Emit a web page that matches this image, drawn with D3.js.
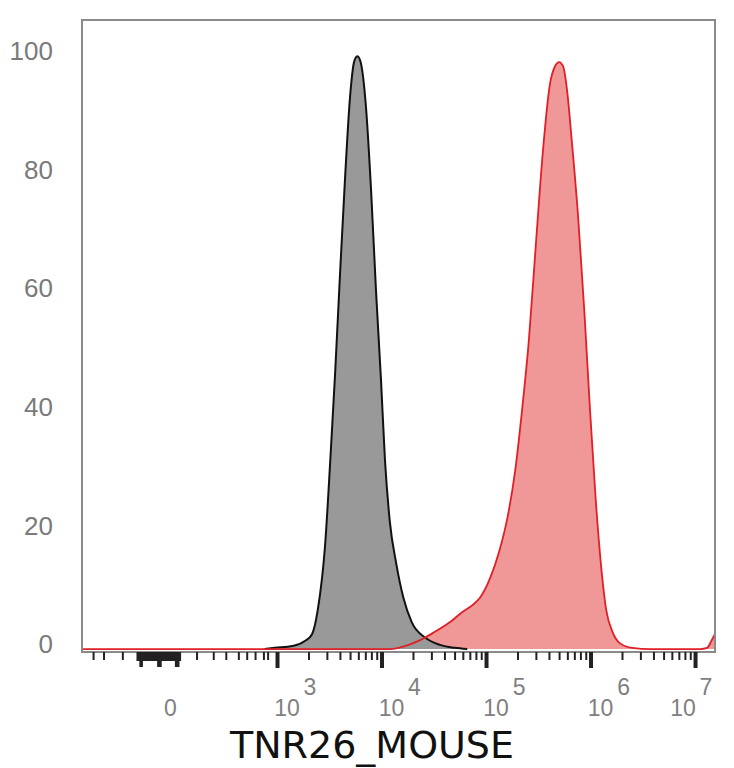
<!DOCTYPE html>
<html>
<head>
<meta charset="utf-8">
<script src="https://cdn.jsdelivr.net/npm/d3@7"></script>
<style>
  body { margin: 0; background: #fff; }
</style>
</head>
<body>
<div id="histogram"></div>
<script>
// positions are in display decades (logicle-like axis: 2 = "0", 3 = 10^3, ...)
// heights are % of mode
var grayX = [2.88, 2.98, 3.15, 3.27, 3.335, 3.39, 3.46, 3.51, 3.555, 3.60, 3.65, 3.70, 3.74, 3.77, 3.80,
             3.85, 3.90, 3.947, 3.995, 4.033, 4.08, 4.14, 4.21, 4.29, 4.42, 4.56, 4.70, 4.82];
var grayY = [0, 0.2, 0.5, 1.4, 2.5, 6.6, 17.5, 31.9, 46.2, 62.2, 79.1, 93.4, 99.2, 100, 99.0,
             91.7, 77.4, 60.5, 45.4, 31.9, 21.4, 14.5, 8.6, 4.5, 1.9, 0.7, 0.2, 0];

var redX = [1.134, 4.08, 4.225, 4.37, 4.51, 4.66, 4.77, 4.87, 4.94, 5.04, 5.13, 5.21, 5.28, 5.34, 5.41,
            5.48, 5.545, 5.61, 5.66, 5.70, 5.737, 5.775, 5.82, 5.88, 5.94, 5.995, 6.05, 6.10, 6.15,
            6.21, 6.28, 6.40, 6.57, 7.05, 7.115, 7.16, 7.20];
var redY = [0, 0, 0.5, 1.5, 2.9, 4.6, 6.2, 7.4, 8.6, 12.0, 16.7, 22.6, 30.2, 39.5, 52.1,
            69.0, 84.1, 95.1, 98.3, 99, 98.3, 94.3, 85.8, 73.2, 57.2, 40.3, 25.1, 14.2, 6.6,
            2.9, 1.0, 0.2, 0, 0, 0.2, 1.5, 2.9];

var yTicks = [0, 20, 40, 60, 80, 100];
var xMajor = [3, 4, 5, 6, 7];
var xLabelBase = ["0", "10", "10", "10", "10", "10"];
var xLabelExp = ["", "3", "4", "5", "6", "7"];
var xLabelAt = [2, 3, 4, 5, 6, 7];
var xLowMinor = [1.24, 1.34, 1.52, 2.23, 2.39, 2.51, 2.63, 2.71, 2.79, 2.87, 2.91];
var xLongNearZero = [1.69, 1.70, 1.86, 1.87, 1.88, 2.03, 2.04, 2.05];
var axisTitle = "TNR26_MOUSE";

// set the dimensions and margins of the graph
var margin = {top: 20, right: 19, bottom: 116, left: 82},
    width = 734 - margin.left - margin.right,
    height = 768 - margin.top - margin.bottom;

var x = d3.scaleLinear()
    .domain([1.134, 7.191])
    .range([0, width]);
var y = d3.scaleLinear()
    .domain([-0.5, 106.1])
    .range([height, 0]);

var svg = d3.select("#histogram").append("svg")
    .attr("width", width + margin.left + margin.right)
    .attr("height", height + margin.top + margin.bottom)
    .append("g")
    .attr("transform", "translate(" + margin.left + "," + margin.top + ")");

svg.append("clipPath").attr("id", "clip")
    .append("rect").attr("width", width).attr("height", height);

var red = redX.map(function(d, i) { return {x: d, y: redY[i]}; });
var gray = grayX.map(function(d, i) { return {x: d, y: grayY[i]}; });

var area = d3.area()
    .curve(d3.curveMonotoneX)
    .x(function(d) { return x(d.x); })
    .y0(y(0))
    .y1(function(d) { return y(d.y); });
var line = d3.line()
    .curve(d3.curveMonotoneX)
    .x(function(d) { return x(d.x); })
    .y(function(d) { return y(d.y); });

var plot = svg.append("g").attr("clip-path", "url(#clip)");

// fills first, outlines on top
plot.append("path").datum(red).attr("d", area).attr("fill", "#f09797");
plot.append("path").datum(gray).attr("d", area).attr("fill", "#999999");
plot.append("path").datum(gray).attr("d", line)
    .attr("fill", "none").attr("stroke", "#111").attr("stroke-width", 2);
plot.append("path").datum(red).attr("d", line)
    .attr("fill", "none").attr("stroke", "#e01f26").attr("stroke-width", 1.8);

// frame
svg.append("rect")
    .attr("width", width).attr("height", height)
    .attr("fill", "none").attr("stroke", "#8a8a8a").attr("stroke-width", 2);

// x ticks: minor, dense cluster near zero, major
var minor = xLowMinor.slice();
[3, 4, 5, 6].forEach(function(n) {
  for (var k = 2; k <= 9; k++) minor.push(n + Math.log10(k));
});
var dense = d3.range(1.66, 2.075, 0.012);

function tickGroup(vals, size, w) {
  var g = svg.append("g")
      .attr("transform", "translate(0," + height + ")")
      .call(d3.axisBottom(x).tickValues(vals).tickSize(size).tickFormat(""));
  g.select(".domain").remove();
  g.selectAll("line").attr("stroke", "#222").attr("stroke-width", w);
}
tickGroup(minor, 8, 2);
tickGroup(dense, 9, 2);
tickGroup(xLongNearZero, 15, 2.5);
tickGroup(xMajor, 16, 4);

// x tick labels
var lab = svg.append("g")
    .attr("font-family", "'Liberation Sans', Arial, sans-serif")
    .attr("font-size", 23)
    .attr("fill", "#808080");
xLabelAt.forEach(function(d, i) {
  if (xLabelExp[i] === "") {
    lab.append("text").attr("x", x(d) - 2).attr("y", height + 64)
        .attr("text-anchor", "middle").text(xLabelBase[i]);
  } else {
    var ex = Math.min(x(d) + 33, 624);
    lab.append("text").attr("x", ex - 23).attr("y", height + 64)
        .attr("text-anchor", "middle").text(xLabelBase[i]);
    lab.append("text").attr("x", ex).attr("y", height + 43)
        .attr("text-anchor", "middle").text(xLabelExp[i]);
  }
});

// y tick labels
svg.append("g")
    .attr("font-family", "'Liberation Sans', Arial, sans-serif")
    .attr("font-size", 26)
    .attr("fill", "#7a7a7a")
    .selectAll("text")
    .data(yTicks)
    .enter().append("text")
    .attr("x", -29)
    .attr("y", function(d) { return y(d) - 5; })
    .attr("dy", "0.35em")
    .attr("text-anchor", "end")
    .text(function(d) { return d; });

// axis title
svg.append("text")
    .attr("x", 290)
    .attr("y", height + 106)
    .attr("text-anchor", "middle")
    .attr("font-family", "'DejaVu Sans', sans-serif")
    .attr("font-size", 38)
    .attr("fill", "#111")
    .text(axisTitle);
</script>
</body>
</html>
